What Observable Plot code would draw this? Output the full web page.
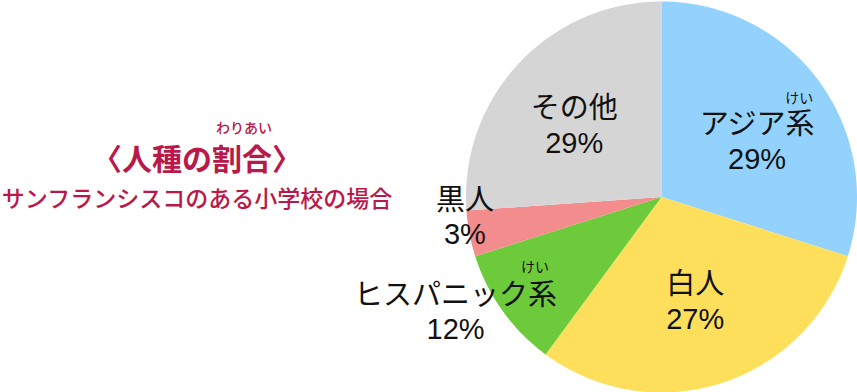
<!DOCTYPE html>
<html><head><meta charset="utf-8">
<script src="https://cdn.jsdelivr.net/npm/d3@7"></script>
<script src="https://cdn.jsdelivr.net/npm/@observablehq/plot@0.6"></script>
<style>
html,body{margin:0;padding:0;background:#fff;}
#wrap{position:relative;width:857px;height:392px;font-family:"Liberation Sans","Noto Sans CJK JP",sans-serif;}
.ov{position:absolute;transform:translate(-50%,-50%);white-space:nowrap;line-height:1;color:#BA1849;font-family:"Noto Sans CJK JP",sans-serif;}
</style></head>
<body>
<div id="wrap">
  <div class="ov" style="left:244px;top:127px;font-size:14px;font-weight:500;">わりあい</div>
  <div class="ov" style="left:197px;top:157px;font-size:30px;font-weight:700;">〈人種の割合〉</div>
  <div class="ov" style="left:197px;top:197px;font-size:23px;font-weight:500;">サンフランシスコのある小学校の場合</div>
</div>
<script>
// ---- data ----
const categories = ["アジア系", "白人", "ヒスパニック系", "黒人", "その他"];
const shares = [29.9, 30.2, 10.0, 3.8, 26.1];          // slice sizes as drawn (%)
const pctLabels = ["29%", "27%", "12%", "3%", "29%"];  // printed labels
const rubyText = ["けい", "", "けい", "", ""];
const colors = ["#93D2FC", "#FEDF5B", "#6DCB3B", "#F38C8C", "#D5D5D5"];

// ---- layout (not data) ----
const R = 195.5;
const labelLayout = [
  {r: 0.568, nx: 6, ny: -9, rx: 42, ry: 42},
  {r: 0.558, nx: 0, ny: 0, rx: 0, ry: 0},
  {r: 1.202, nx: -15, ny: 23, rx: 79.5, ry: 43},
  {r: 1.008, nx: -3, ny: 18, rx: 0, ry: 0},
  {r: 0.583, nx: -4, ny: -5, rx: 0, ry: 0}
];

const arcs = d3.pie().sort(null).value(d => d)(shares);
const polys = [];
arcs.forEach((a, i) => {
  const cat = categories[i];
  polys.push({cat, x: 0, y: 0});
  const n = Math.max(2, Math.ceil((a.endAngle - a.startAngle) / (Math.PI / 360)));
  for (let k = 0; k <= n; k++) {
    const t = a.startAngle + (a.endAngle - a.startAngle) * k / n;
    polys.push({cat, x: R * Math.sin(t), y: R * Math.cos(t)});
  }
  polys.push({cat, x: 0, y: 0});
});

const labels = arcs.map((a, i) => {
  const m = (a.startAngle + a.endAngle) / 2, L = labelLayout[i];
  const x = L.r * R * Math.sin(m) + L.nx, y = L.r * R * Math.cos(m) + L.ny;
  return {cat: categories[i], text: categories[i] + "\n" + pctLabels[i], x, y,
          ruby: rubyText[i], rxp: x + L.rx, ryp: y + L.ry};
});

const chart = Plot.plot({
  width: 857, height: 392,
  margin: 0,
  x: {domain: [-661, 196], axis: null},
  y: {domain: [-195.5, 196.5], axis: null},
  color: {domain: categories, range: colors},
  style: {fontFamily: '"Liberation Sans","Noto Sans CJK JP",sans-serif', background: "transparent", overflow: "visible"},
  marks: [
    Plot.line(polys, {x: "x", y: "y", z: "cat", fill: "cat", stroke: "none", curve: "linear"}),
    Plot.text(labels, {x: "x", y: "y", text: "text", fontSize: 29, lineHeight: 1.2, lineAnchor: "middle", fill: "#111"}),
    Plot.text(labels.filter(d => d.ruby), {x: "rxp", y: "ryp", text: "ruby", fontSize: 14, fill: "#111", fontFamily: '"Noto Sans CJK JP",sans-serif'})
  ]
});
chart.style.position = "absolute";
chart.style.left = "0";
chart.style.top = "0";
document.getElementById("wrap").prepend(chart);
</script>
</body></html>
